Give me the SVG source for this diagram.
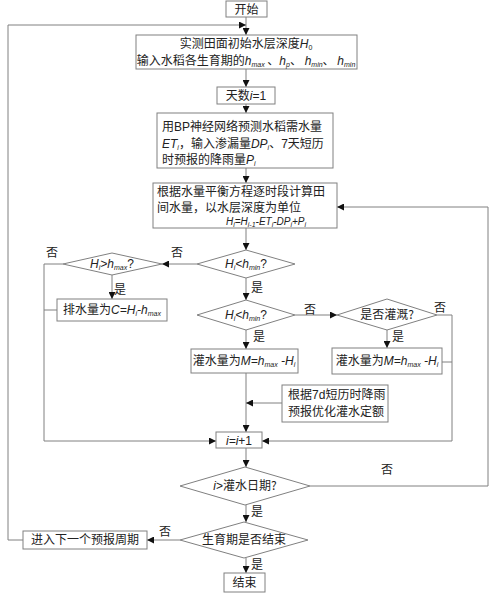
<svg xmlns="http://www.w3.org/2000/svg" width="498" height="595" viewBox="0 0 498 595">
<style>
.b{fill:#fff;stroke:#808080;stroke-width:1}
.l{fill:none;stroke:#808080;stroke-width:1}
.a{marker-end:url(#ar)}
text{font-family:"Noto Sans CJK SC","Liberation Sans",sans-serif;font-size:12px;fill:#222}
.c{text-anchor:middle}
.m{font-family:"Liberation Sans",sans-serif;font-style:italic}
.n{font-family:"Liberation Sans",sans-serif}
.s{font-size:7px}
</style>
<defs>
<marker id="ar" viewBox="0 0 8 8" refX="8" refY="4" markerWidth="7" markerHeight="7" markerUnits="userSpaceOnUse" orient="auto">
<path d="M0,0L8,4L0,8z" fill="#111"/>
</marker>
</defs>
<rect width="498" height="595" fill="#fff"/>
<g id="connectors">
<path class="l a" d="M246,17V35"/>
<path class="l a" d="M23,540H8V25H246"/>
<path class="l a" d="M246,69V87"/>
<path class="l a" d="M246,104V113"/>
<path class="l a" d="M246,168V183"/>
<path class="l a" d="M246,228V250"/>
<path class="l a" d="M197,264H162"/>
<path class="l a" d="M63,264H44V441H216"/>
<path class="l a" d="M112,275V299"/>
<path class="l" d="M57,310H44"/>
<path class="l a" d="M246,278V300"/>
<path class="l a" d="M295,315H337"/>
<path class="l a" d="M246,330V349"/>
<path class="l a" d="M437,315H452V441H262"/>
<path class="l a" d="M387,330V348"/>
<path class="l" d="M442,362H452"/>
<path class="l a" d="M246,373V432"/>
<path class="l a" d="M282,403H246"/>
<path class="l a" d="M246,448V467"/>
<path class="l a" d="M310,486H488V207H337"/>
<path class="l a" d="M246,505V522"/>
<path class="l a" d="M180,540H147"/>
<path class="l a" d="M246,558V573"/>
</g>
<g id="start">
<rect class="b" x="226" y="1" width="41" height="16"/>
<text class="c" x="246.5" y="13.5">开始</text>
</g>
<g id="init">
<rect class="b" x="136" y="35" width="221" height="34"/>
<text class="c" x="246" y="48">实测田面初始水层深度<tspan class="m">H</tspan><tspan class="n s" dy="2">0</tspan></text>
<text class="c" x="246" y="65">输入水稻各生育期的<tspan class="m">h</tspan><tspan class="m s" dy="2">max</tspan><tspan dy="-2"> 、</tspan><tspan class="m">h</tspan><tspan class="m s" dy="2">p</tspan><tspan dy="-2">、 </tspan><tspan class="m">h</tspan><tspan class="m s" dy="2">min</tspan><tspan dy="-2">、 </tspan><tspan class="m">h</tspan><tspan class="m s" dy="2">min</tspan></text>
</g>
<g id="day">
<rect class="b" x="217" y="87" width="58" height="17"/>
<text class="c" x="246" y="100">天数<tspan class="m">i</tspan><tspan class="n">=1</tspan></text>
</g>
<g id="bp">
<rect class="b" x="157" y="113" width="176" height="55"/>
<text x="162" y="131">用<tspan class="n">BP</tspan>神经网络预测水稻需水量</text>
<text x="162" y="148"><tspan class="m">ET</tspan><tspan class="m s" dy="2">i</tspan><tspan dy="-2">，输入渗漏量</tspan><tspan class="m">DP</tspan><tspan class="m s" dy="2">i</tspan><tspan dy="-2">、</tspan><tspan class="n">7</tspan>天短历</text>
<text x="162" y="164">时预报的降雨量<tspan class="m">P</tspan><tspan class="m s" dy="2">i</tspan></text>
</g>
<g id="balance">
<rect class="b" x="153" y="183" width="184" height="45"/>
<text x="157" y="196">根据水量平衡方程逐时段计算田</text>
<text x="157" y="212">间水量，以水层深度为单位</text>
<text class="c" x="266" y="225" style="font-size:10px"><tspan class="m">H</tspan><tspan class="m s" dy="1.5">i</tspan><tspan class="m" dy="-1.5">=H</tspan><tspan class="m s" dy="1.5">i-1</tspan><tspan class="m" dy="-1.5">-ET</tspan><tspan class="m s" dy="1.5">i</tspan><tspan class="m" dy="-1.5">-DP</tspan><tspan class="m s" dy="1.5">i</tspan><tspan class="m" dy="-1.5">+P</tspan><tspan class="m s" dy="1.5">i</tspan></text>
</g>
<g id="d1">
<polygon class="b" points="246,250 295,264 246,278 197,264"/>
<text class="c" x="246" y="268"><tspan class="m">H</tspan><tspan class="m s" dy="2">i</tspan><tspan class="m" dy="-2">&lt;h</tspan><tspan class="m s" dy="2">min</tspan><tspan class="n" dy="-2">?</tspan></text>
</g>
<g id="dl">
<polygon class="b" points="112,253 162,264 112,275 63,264"/>
<text class="c" x="112" y="268"><tspan class="m">H</tspan><tspan class="m s" dy="2">i</tspan><tspan class="m" dy="-2">&gt;h</tspan><tspan class="m s" dy="2">max</tspan><tspan class="n" dy="-2">?</tspan></text>
</g>
<g id="drain">
<rect class="b" x="57" y="299" width="110" height="22"/>
<text class="c" x="112" y="314">排水量为<tspan class="m">C=H</tspan><tspan class="m s" dy="2">i</tspan><tspan class="m" dy="-2">-h</tspan><tspan class="m s" dy="2">max</tspan></text>
</g>
<g id="d2">
<polygon class="b" points="246,300 295,315 246,330 197,315"/>
<text class="c" x="246" y="319"><tspan class="m">H</tspan><tspan class="m s" dy="2">i</tspan><tspan class="m" dy="-2">&lt;h</tspan><tspan class="m s" dy="2">min</tspan><tspan class="n" dy="-2">?</tspan></text>
</g>
<g id="d3">
<polygon class="b" points="387,299 437,315 387,330 337,315"/>
<text class="c" x="387" y="319">是否灌溉?</text>
</g>
<g id="irr1">
<rect class="b" x="191" y="349" width="107" height="24"/>
<text class="c" x="244" y="365">灌水量为<tspan class="m">M=h</tspan><tspan class="m s" dy="2">max</tspan><tspan class="m" dy="-2"> -H</tspan><tspan class="m s" dy="2">i</tspan></text>
</g>
<g id="irr2">
<rect class="b" x="332" y="348" width="110" height="26"/>
<text class="c" x="387" y="365">灌水量为<tspan class="m">M=h</tspan><tspan class="m s" dy="2">max</tspan><tspan class="m" dy="-2"> -H</tspan><tspan class="m s" dy="2">i</tspan></text>
</g>
<g id="opt">
<rect class="b" x="282" y="385" width="106" height="37"/>
<text x="288" y="399">根据<tspan class="n">7d</tspan>短历时降雨</text>
<text x="288" y="416">预报优化灌水定额</text>
</g>
<g id="inc">
<rect class="b" x="216" y="432" width="46" height="16"/>
<text class="c" x="239" y="444.5"><tspan class="m">i=i</tspan><tspan class="n">+1</tspan></text>
</g>
<g id="d4">
<polygon class="b" points="245,467 310,486 245,505 180,486"/>
<text class="c" x="245" y="490"><tspan class="m">i</tspan><tspan class="n">&gt;</tspan>灌水日期?</text>
</g>
<g id="d5">
<polygon class="b" points="244,522 308,540 244,558 180,540"/>
<text class="c" x="244" y="544">生育期是否结束</text>
</g>
<g id="next">
<rect class="b" x="23" y="531" width="124" height="18"/>
<text class="c" x="85" y="544">进入下一个预报周期</text>
</g>
<g id="end">
<rect class="b" x="224" y="573" width="41" height="19"/>
<text class="c" x="244.5" y="587">结束</text>
</g>
<g id="labels">
<text class="c" x="177" y="257">否</text>
<text class="c" x="52" y="257">否</text>
<text class="c" x="120" y="294">是</text>
<text class="c" x="257" y="292">是</text>
<text class="c" x="310" y="314">否</text>
<text class="c" x="440" y="312">否</text>
<text class="c" x="398" y="341">是</text>
<text class="c" x="259" y="341">是</text>
<text class="c" x="387" y="474">否</text>
<text class="c" x="257" y="516">是</text>
<text class="c" x="165" y="536">否</text>
<text class="c" x="257" y="569">是</text>
</g>
</svg>
